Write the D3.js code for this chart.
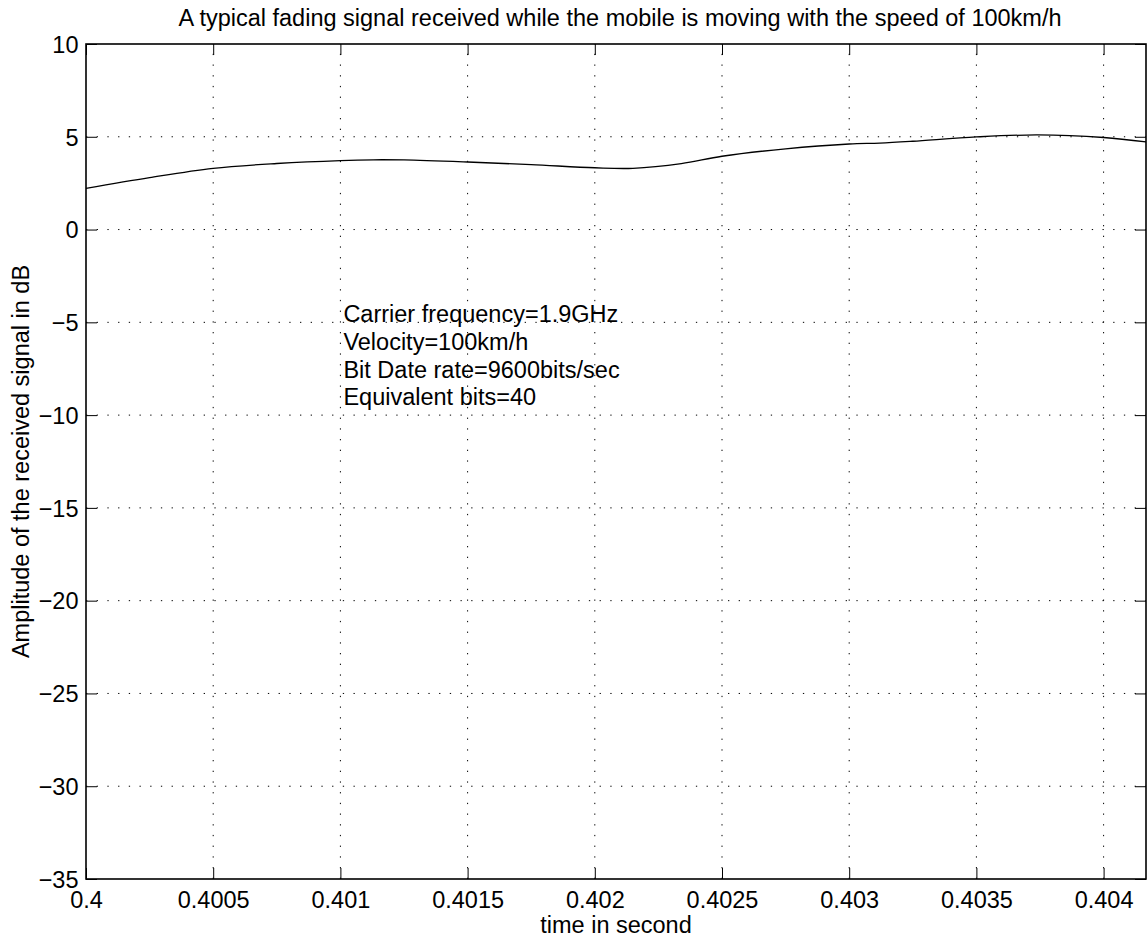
<!DOCTYPE html>
<html><head><meta charset="utf-8">
<script src="https://cdn.jsdelivr.net/npm/d3@7"></script>
<style>
body{margin:0;background:#fff;}
text{font-family:"Liberation Sans",Arial,Helvetica,sans-serif;fill:#000;}
</style></head><body>
<svg id="chart" width="1148" height="945"></svg>
<script>
// Data
const timeValues = [0.4000, 0.40025, 0.4005, 0.40075, 0.4010, 0.40113, 0.40125, 0.4015, 0.40175, 0.4020, 0.40215, 0.40234, 0.4025, 0.40275, 0.4030, 0.40312, 0.40325, 0.4035, 0.40374, 0.4040, 0.4041667];
const ampValues  = [2.22, 2.80, 3.30, 3.56, 3.72, 3.76, 3.75, 3.64, 3.50, 3.33, 3.30, 3.55, 3.95, 4.35, 4.61, 4.66, 4.76, 4.99, 5.10, 4.96, 4.72];
const xTicks = [0.4, 0.4005, 0.401, 0.4015, 0.402, 0.4025, 0.403, 0.4035, 0.404];
const xTickLabels = ["0.4", "0.4005", "0.401", "0.4015", "0.402", "0.4025", "0.403", "0.4035", "0.404"];
const yTicks = [10, 5, 0, -5, -10, -15, -20, -25, -30, -35];
const annotationLines = ["Carrier frequency=1.9GHz", "Velocity=100km/h", "Bit Date rate=9600bits/sec", "Equivalent bits=40"];
const titleText = "A typical fading signal received while the mobile is moving with the speed of 100km/h";
const xLabel = "time in second";
const yLabel = "Amplitude of the received signal in dB";

const svg = d3.select("#chart");
const L = 86, R = 1146, T = 44, B = 879;
const xS = d3.scaleLinear().domain([0.4, 0.4 + 40/9600]).range([L, R]);
const yS = d3.scaleLinear().domain([-35, 10]).range([B, T]);
const fs = 23.5;

// grid
const grid = svg.append("g").attr("stroke", "#000").attr("stroke-width", 1).attr("stroke-dasharray", "1.3 9.4");
grid.selectAll(".vg").data(xTicks.slice(1)).enter().append("line")
  .attr("x1", d => xS(d)).attr("x2", d => xS(d)).attr("y1", B).attr("y2", T);
grid.selectAll(".hg").data(yTicks.slice(1, -1)).enter().append("line")
  .attr("x1", L).attr("x2", R).attr("y1", d => yS(d)).attr("y2", d => yS(d));

// axes with inward ticks
const fmtY = d => d < 0 ? "\u2212" + Math.abs(d) : String(d);
const gBottom = svg.append("g").attr("transform", `translate(0,${B})`)
  .call(d3.axisBottom(xS).tickValues(xTicks).tickFormat((d,i) => xTickLabels[i]).tickSizeInner(-11).tickSizeOuter(0).tickPadding(12));
const gTop = svg.append("g").attr("transform", `translate(0,${T})`)
  .call(d3.axisTop(xS).tickValues(xTicks).tickFormat("").tickSizeInner(-11).tickSizeOuter(0));
const gLeft = svg.append("g").attr("transform", `translate(${L},0)`)
  .call(d3.axisLeft(yS).tickValues(yTicks).tickFormat(fmtY).tickSizeInner(-11).tickSizeOuter(0).tickPadding(7.5));
const gRight = svg.append("g").attr("transform", `translate(${R},0)`)
  .call(d3.axisRight(yS).tickValues(yTicks).tickFormat("").tickSizeInner(-11).tickSizeOuter(0));
[gBottom, gTop, gLeft, gRight].forEach(g => {
  g.select(".domain").remove();
  g.selectAll("line").attr("stroke", "#000").attr("stroke-width", 1);
  g.selectAll("text").attr("font-size", fs).attr("font-family", '"Liberation Sans",Arial,sans-serif').attr("fill", "#000");
});
gLeft.selectAll("text").attr("dy", "0.35em");

// box
svg.append("rect").attr("x", L).attr("y", T).attr("width", R - L).attr("height", B - T)
  .attr("fill", "none").attr("stroke", "#000").attr("stroke-width", 1.6);

// curve
const data = timeValues.map((t, i) => [t, ampValues[i]]);
const lineGen = d3.line().x(d => xS(d[0])).y(d => yS(d[1])).curve(d3.curveCatmullRom.alpha(0.5));
svg.append("path").datum(data)
  .attr("fill", "none").attr("stroke", "#000").attr("stroke-width", 1.3)
  .attr("d", lineGen);

// annotation
const ann = svg.append("text").attr("font-size", fs).attr("x", xS(0.401) + 3).attr("y", yS(-5));
annotationLines.forEach((s, i) => ann.append("tspan").attr("x", xS(0.401) + 3).attr("dy", i === 0 ? 0 : 27.7).text(s));

// title & labels
svg.append("text").attr("x", (L + R) / 2 + 4).attr("y", 26).attr("text-anchor", "middle").attr("font-size", fs).text(titleText);
svg.append("text").attr("x", (L + R) / 2).attr("y", 933).attr("text-anchor", "middle").attr("font-size", fs).text(xLabel);
svg.append("text").attr("transform", `translate(29,${(T + B) / 2}) rotate(-90)`).attr("text-anchor", "middle").attr("font-size", fs).text(yLabel);
</script>
</body></html>
